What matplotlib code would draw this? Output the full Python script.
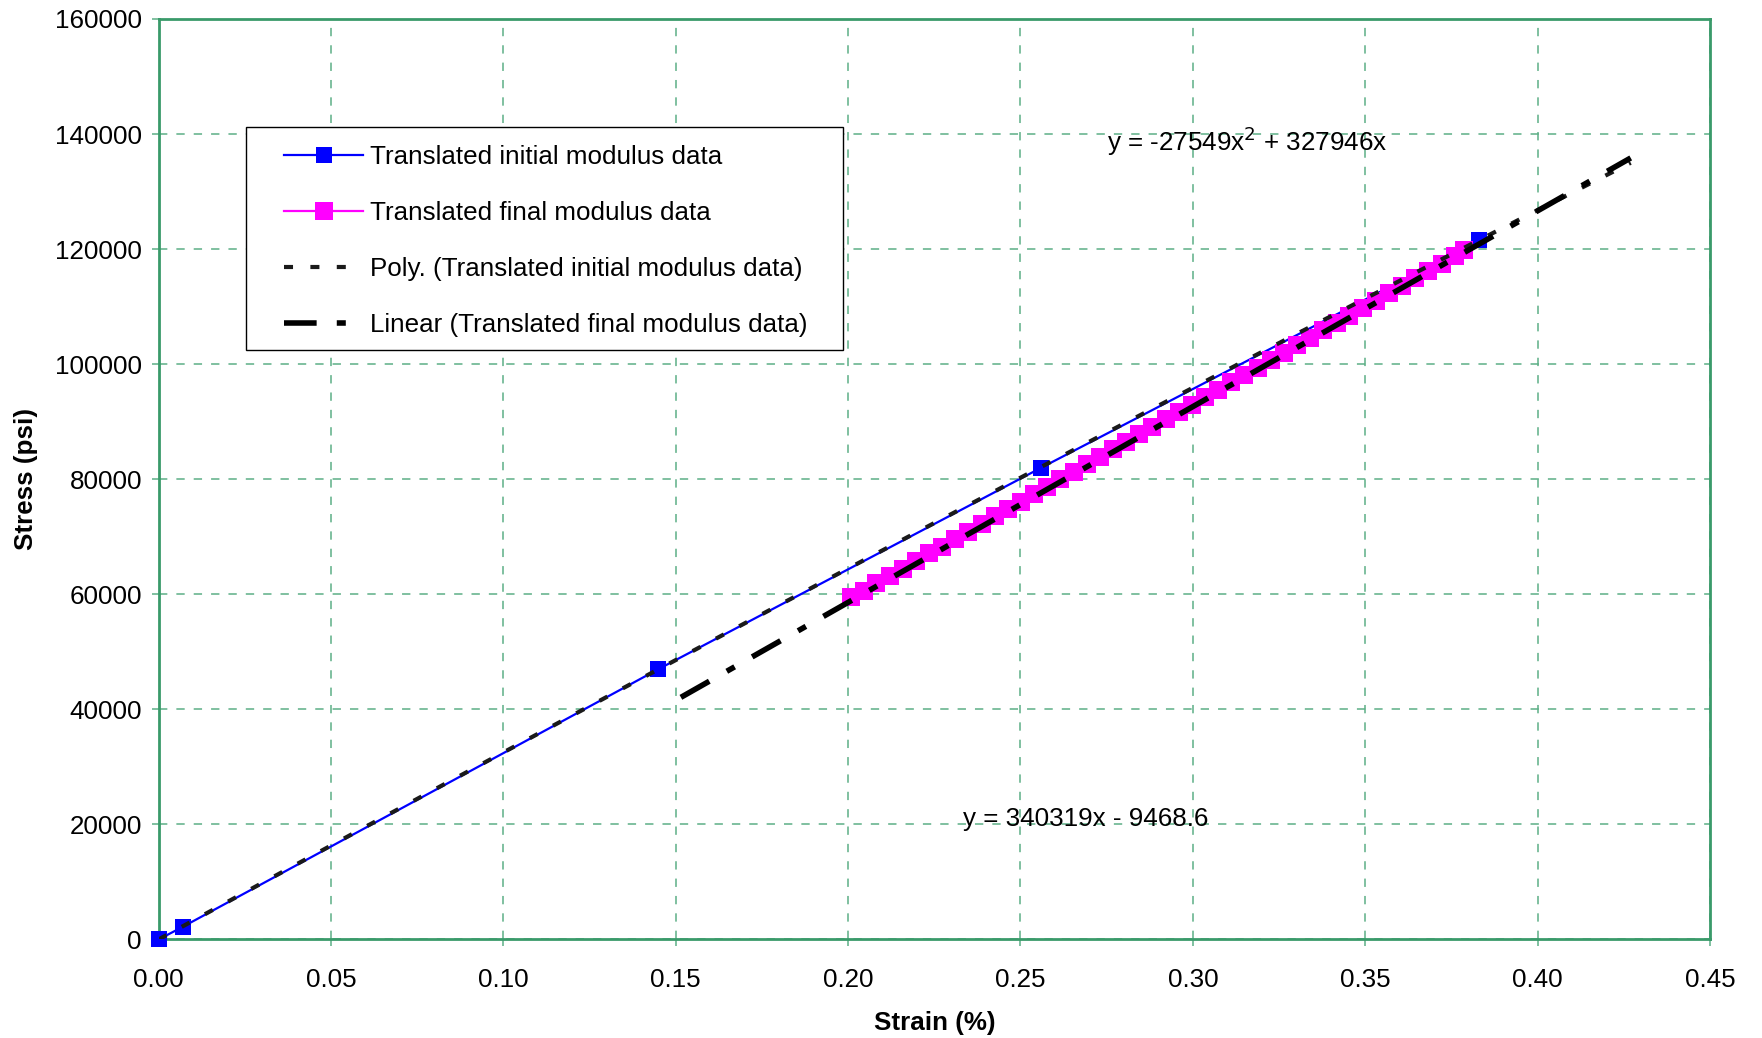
import numpy as np
import matplotlib
matplotlib.use("Agg")
import matplotlib.pyplot as plt
from matplotlib.patches import Rectangle

plt.rcParams['font.family'] = ['Liberation Sans', 'DejaVu Sans']
plt.rcParams['lines.scale_dashes'] = False

# Translated initial modulus data (blue)
initial_strain = [0.0, 0.007, 0.145, 0.256, 0.383]
initial_stress = [0, 2200, 47000, 82000, 121500]

# Translated final modulus data (magenta)
final_strain = [0.2007, 0.2045, 0.2082, 0.2121, 0.2158, 0.2197, 0.2236, 0.2272,
                0.2311, 0.2349, 0.2387, 0.2426, 0.2463, 0.2501, 0.2540, 0.2577,
                0.2616, 0.2654, 0.2692, 0.2731, 0.2768, 0.2806, 0.2845, 0.2882,
                0.2921, 0.2959, 0.2997, 0.3035, 0.3073, 0.3112, 0.3149, 0.3188,
                0.3226, 0.3264, 0.3302, 0.3340, 0.3378, 0.3417, 0.3454, 0.3493,
                0.3531, 0.3569, 0.3607, 0.3645, 0.3683, 0.3722, 0.3760, 0.3787]
final_stress = [59500, 60600, 61900, 63200, 64400, 65800, 67100, 68300,
                69700, 70900, 72300, 73600, 74800, 76100, 77500, 78700,
                80000, 81300, 82600, 83900, 85200, 86500, 87800, 89000,
                90400, 91700, 92900, 94300, 95500, 96900, 98100, 99400,
                100700, 102000, 103300, 104600, 105900, 107200, 108400, 109800,
                111000, 112300, 113600, 114900, 116200, 117500, 118800, 119800]

# trendline coefficients as printed on the chart
poly_a, poly_b = -27549, 327946
lin_m, lin_c = 340319, -9468.6
poly_range = (0.0, 0.427)
lin_range = (0.1515, 0.427)

grid_green = '#5DAF86'
spine_green = '#3A9A6A'
fs = 18.75

fig = plt.figure(figsize=(17.62, 10.38), dpi=100)
ax = fig.add_axes([0.09, 0.0949, 0.8805, 0.8868])

ax.plot(initial_strain, initial_stress, color='#0000FF', lw=1.6, marker='s',
        markersize=12, markeredgewidth=0, label='Translated initial modulus data',
        zorder=3, clip_on=False)
ax.plot(final_strain, final_stress, color='#FF00FF', lw=1.6, marker='s',
        markersize=12.5, markeredgewidth=0, label='Translated final modulus data', zorder=4)

xp = np.linspace(poly_range[0], poly_range[1], 200)
ax.plot(xp, poly_a * xp ** 2 + poly_b * xp, color='#1a1a1a', lw=3.0,
        dashes=(6.5, 12.5), solid_capstyle='butt', dash_capstyle='butt',
        label='Poly. (Translated initial modulus data)', zorder=5)

xl = np.array(lin_range)
ax.plot(xl, lin_m * xl + lin_c, color='black', lw=4.0,
        dashes=(23.5, 14.5, 6.5, 14.5), dash_capstyle='butt',
        label='Linear (Translated final modulus data)', zorder=6)

ax.text(0.275, 138700, 'y = -27549x$^2$ + 327946x', fontsize=fs, ha='left', va='center')
ax.text(0.2333, 20900, 'y = 340319x - 9468.6', fontsize=fs, ha='left', va='center')

ax.set_xlim(0, 0.45)
ax.set_ylim(0, 160000)
ax.set_xticks(np.arange(0, 0.451, 0.05))
ax.set_xticklabels(['%.2f' % v for v in np.arange(0, 0.451, 0.05)])
ax.set_yticks(np.arange(0, 160001, 20000))
ax.set_yticklabels([str(v) for v in range(0, 160001, 20000)])

ax.grid(True, color=grid_green, lw=1.1, linestyle=(0, (6, 6.5)))
ax.set_axisbelow(True)
for s in ax.spines.values():
    s.set_color(spine_green)
    s.set_linewidth(2.0)

ax.tick_params(axis='both', direction='out', length=5, width=1.1, color=grid_green,
               labelsize=fs)
ax.tick_params(axis='y', pad=7)
ax.tick_params(axis='x', pad=15.5)

ax.set_xlabel('Strain (%)', fontsize=fs, fontweight='bold', labelpad=14)
ax.set_ylabel('Stress (psi)', fontsize=fs, fontweight='bold', labelpad=12)

# legend box drawn separately so the padding matches
box = Rectangle((0.0564, 0.6409), 0.3847, 0.2418, transform=ax.transAxes,
                facecolor='white', edgecolor='black', lw=1.0, zorder=7)
ax.add_patch(box)
leg = ax.legend(loc='center left', bbox_to_anchor=(0.0811, 0.7584), borderaxespad=0,
                fontsize=fs, numpoints=1, handlelength=3.02, handletextpad=0.26,
                labelspacing=1.23, borderpad=0, frameon=False)
leg.set_zorder(8)

fig.savefig('out.png', dpi=100)
